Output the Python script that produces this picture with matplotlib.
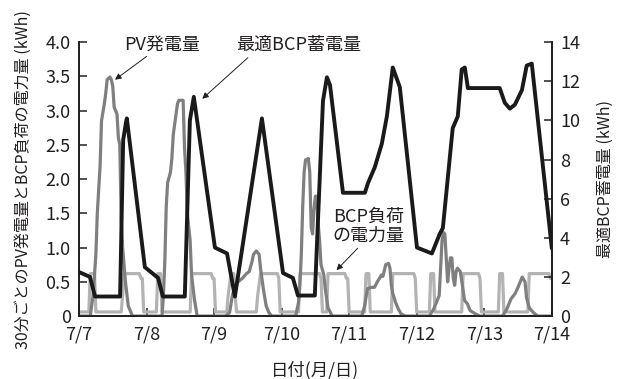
import matplotlib
matplotlib.use('Agg')
import matplotlib.pyplot as plt

plt.rcParams['font.family'] = ['Noto Sans CJK JP', 'DejaVu Sans']

# 経過時間 [h] (7/7 0:00 起点) と 30分ごとの PV 発電量 [kWh]
pv_h = [0, 4.0, 5.0, 6.0, 6.5, 7.5, 8.0, 9.0, 9.5, 10.0, 11.0, 11.5, 12.0, 12.5, 13.5, 14.0, 14.5, 15.0, 15.5, 16.5, 17.5, 19.0,
        29.5, 30.0, 30.5, 31.0, 31.5, 32.5, 33.0, 33.5, 34.0, 35.0, 35.5, 37.0, 37.5, 38.0, 38.5, 39.5, 40.0, 41.0, 42.0,
        52.0, 53.5, 54.5, 55.5, 56.5, 58.0, 59.5, 60.5, 61.5, 62.0, 63.0, 64.0, 64.5, 65.5, 66.5, 67.5, 68.5,
        77.0, 78.0, 78.5, 79.0, 79.5, 80.0, 80.5, 81.5, 82.0, 82.5, 83.0, 83.5, 84.0, 84.5, 85.0, 85.5, 86.0, 87.0, 87.5, 88.5, 90.0,
        100.5, 101.5, 102.5, 104.0, 105.0, 106.0, 107.5, 108.0, 109.0, 110.0, 110.5, 111.0, 111.5, 112.5, 113.5, 114.5, 116.0,
        124.5, 126.0, 127.0, 128.0, 128.5, 129.0, 129.5, 130.0, 130.5, 131.0, 131.5, 132.0, 132.5, 133.0, 133.5, 134.0, 134.5,
        135.5, 136.5, 137.0, 138.0, 139.0, 141.0, 142.5,
        150.5, 152.0, 153.5, 155.0, 156.0, 157.0, 157.5, 158.5, 159.0, 160.0, 161.5, 163.0, 168.0]
pv_v = [0, 0, 0.3, 0.9, 1.5, 2.2, 2.85, 3.1, 3.25, 3.45, 3.49, 3.45, 3.35, 3.05, 2.95, 2.6, 2.5, 1.4, 1.0, 0.5, 0.15, 0,
        0, 0.3, 0.8, 1.6, 1.95, 2.1, 2.3, 2.65, 2.8, 3.1, 3.15, 3.15, 2.45, 2.1, 1.5, 1.1, 0.6, 0.25, 0,
        0, 0.05, 0.3, 0.45, 0.5, 0.55, 0.62, 0.65, 0.8, 0.9, 0.95, 0.9, 0.7, 0.4, 0.15, 0.05, 0,
        0, 0.2, 0.45, 0.9, 1.6, 2.1, 2.28, 2.3, 2.1, 1.3, 1.2, 1.55, 1.75, 1.75, 1.35, 1.1, 0.75, 0.6, 0.4, 0.12, 0,
        0, 0.15, 0.4, 0.42, 0.42, 0.5, 0.6, 0.58, 0.75, 0.77, 0.7, 0.45, 0.33, 0.2, 0.1, 0.03, 0,
        0, 0.1, 0.2, 0.3, 0.7, 1.1, 1.22, 1.2, 0.85, 0.5, 0.7, 0.85, 0.85, 0.55, 0.45, 0.65, 0.7,
        0.65, 0.38, 0.23, 0.18, 0.08, 0.03, 0,
        0, 0.1, 0.25, 0.33, 0.42, 0.52, 0.57, 0.5, 0.28, 0.12, 0.05, 0, 0]

# BCP 負荷の電力量 [kWh]
load_h = [0, 3.5, 4.0, 5.5, 6.0, 15.0, 15.5, 16.0, 21.5, 22.0, 22.5, 23.0,
          27.5, 28.0, 29.0, 29.5, 39.5, 40.0, 47.0, 47.5, 48.0, 48.5,
          52.5, 53.0, 54.0, 55.0, 55.5, 56.0, 63.0, 63.5, 64.5, 70.5, 71.0, 71.5,
          78.0, 78.5, 85.5, 86.0, 86.5, 88.0, 88.5, 94.5, 95.0, 95.5, 96.0,
          101.5, 102.0, 103.0, 103.5, 111.0, 111.5, 119.0, 119.5, 120.0,
          124.5, 125.0, 126.0, 126.5, 136.0, 136.5, 142.0, 142.5, 143.0,
          149.0, 149.5, 150.5, 151.0, 159.5, 160.0, 167.0, 167.5, 168.0]
load_v = [0.06, 0.06, 0.62, 0.62, 0.06, 0.06, 0.3, 0.62, 0.62, 0.55, 0.55, 0.06,
          0.06, 0.62, 0.62, 0.06, 0.06, 0.62, 0.62, 0.55, 0.55, 0.06,
          0.06, 0.3, 0.62, 0.62, 0.3, 0.06, 0.06, 0.3, 0.62, 0.62, 0.55, 0.06,
          0.06, 0.62, 0.62, 0.55, 0.06, 0.06, 0.62, 0.62, 0.55, 0.55, 0.06,
          0.06, 0.62, 0.62, 0.06, 0.06, 0.62, 0.62, 0.55, 0.06,
          0.06, 0.62, 0.62, 0.06, 0.06, 0.62, 0.62, 0.55, 0.06,
          0.06, 0.62, 0.62, 0.06, 0.06, 0.62, 0.62, 0.55, 0.55]

# 最適 BCP 蓄電量 [kWh] (右軸)
soc_h = [0, 3.9, 5.7, 14.6, 15.7, 16.7, 17.0, 23.4, 28.1, 29.8, 37.6, 39.4, 40.8, 48.3, 52.6, 55.4,
         65.0, 72.5, 76.0, 77.8, 83.8, 86.7, 88.1, 89.2, 93.8, 101.6, 102.7, 105.1, 107.6, 109.4, 111.5,
         114.0, 120.1, 125.4, 128.2, 129.3, 132.8, 134.6, 136.0, 137.1, 138.2, 149.5, 151.3, 153.1, 154.9,
         157.4, 159.1, 160.9, 168.0]
soc_v = [2.25, 2.0, 1.0, 1.0, 9.0, 9.9, 10.1, 2.5, 1.95, 1.0, 1.0, 10.0, 11.2, 3.5, 3.2, 1.0,
         10.1, 2.2, 1.95, 1.05, 1.05, 11.0, 12.2, 11.8, 6.3, 6.3, 6.8, 7.6, 8.8, 10.2, 12.7,
         11.7, 3.5, 3.2, 4.2, 4.5, 9.6, 10.2, 12.6, 12.7, 11.65, 11.65, 10.9, 10.6, 10.8,
         11.55, 12.8, 12.9, 3.5]

day_ticks = [0, 24, 48, 72, 96, 120, 144, 168]
day_labels = ['7/7', '7/8', '7/9', '7/10', '7/11', '7/12', '7/13', '7/14']

TXT = '#231f20'

fig = plt.figure(figsize=(6.27, 3.79), dpi=100)
ax1 = fig.add_axes([0.126, 0.166, 0.754, 0.723])
ax2 = ax1.twinx()

ax1.plot(load_h, load_v, color='#b3b3b3', lw=2.3, zorder=2)
ax1.plot(pv_h, pv_v, color='#7f7f7f', lw=2.3, zorder=3)
ax2.plot(soc_h, soc_v, color='#1a1a1a', lw=2.8, zorder=4)

ax1.set_xlim(0, 168)
ax1.set_ylim(0, 4.0)
ax2.set_ylim(0, 14)

ax1.set_xticks(day_ticks)
ax1.set_xticklabels(day_labels)
ax1.set_yticks([0, 0.5, 1.0, 1.5, 2.0, 2.5, 3.0, 3.5, 4.0])
ax1.set_yticklabels(['0', '0.5', '1.0', '1.5', '2.0', '2.5', '3.0', '3.5', '4.0'])
ax2.set_yticks(range(0, 15, 2))

for ax in (ax1, ax2):
    ax.spines['top'].set_visible(False)
    for sp in ax.spines.values():
        sp.set_linewidth(1.3)
        sp.set_color(TXT)
    ax.tick_params(direction='in', length=6, width=1.1, color=TXT,
                   labelsize=13, labelcolor=TXT)
ax1.tick_params(axis='y', pad=6)
ax1.tick_params(axis='x', pad=7)
ax2.tick_params(axis='y', pad=6)

ax1.set_xlabel('日付(月/日)', fontsize=12.5, color=TXT, labelpad=12)
ax1.set_ylabel('30分ごとのPV発電量とBCP負荷の電力量 (kWh)', fontsize=11.5, color=TXT, labelpad=10)
ax2.set_ylabel('最適BCP蓄電量 (kWh)', fontsize=11.5, color=TXT, labelpad=12)

arrow = dict(arrowstyle='-|>', color=TXT, lw=0.7, mutation_scale=9, shrinkA=0, shrinkB=0)
ax1.text(29.5, 3.96, 'PV発電量', fontsize=13, color=TXT, ha='center', va='center')
ax1.annotate('', xy=(12.8, 3.45), xytext=(24.0, 3.79), arrowprops=arrow)
ax2.text(78.0, 13.85, '最適BCP蓄電量', fontsize=13, color=TXT, ha='center', va='center')
ax2.annotate('', xy=(43.8, 11.1), xytext=(60.0, 13.2), arrowprops=arrow)
ax1.text(103.0, 1.31, 'BCP負荷\nの電力量', fontsize=13, color=TXT, ha='center', va='center',
         linespacing=1.05)
ax1.annotate('', xy=(91.5, 0.67), xytext=(99.0, 0.99), arrowprops=arrow)

fig.savefig('out.png', dpi=100)
